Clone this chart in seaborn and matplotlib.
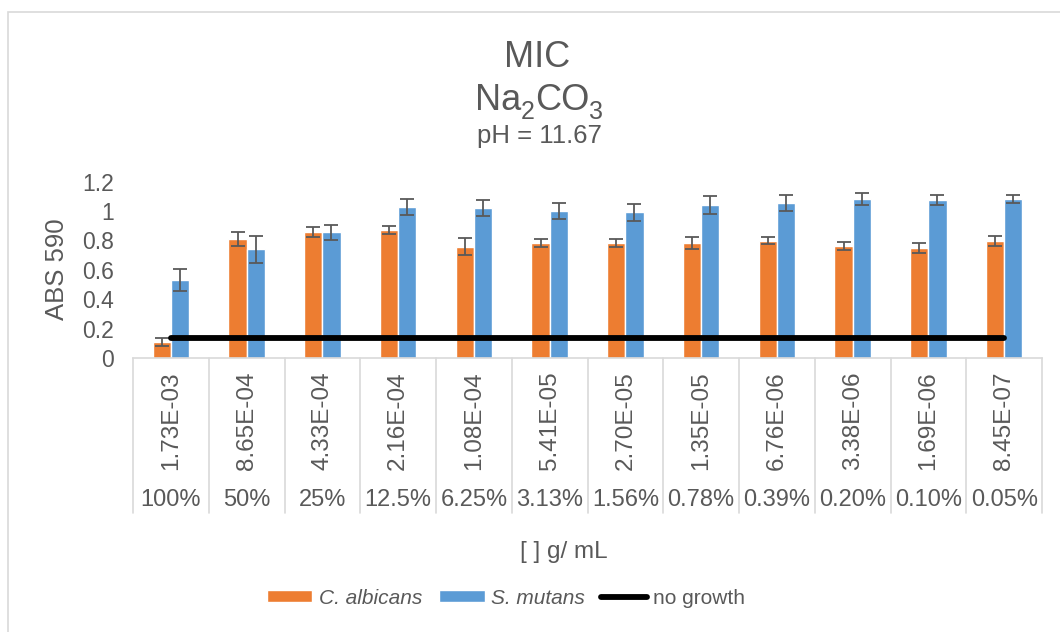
import numpy as np
import pandas as pd
import matplotlib
matplotlib.use("Agg")
import matplotlib.pyplot as plt
import seaborn as sns
from matplotlib.transforms import blended_transform_factory
from matplotlib.patches import Rectangle, Patch
from matplotlib.lines import Line2D

# Concentrations (g/mL) and dilution levels
concentrations = ["1.73E-03", "8.65E-04", "4.33E-04", "2.16E-04", "1.08E-04", "5.41E-05",
                  "2.70E-05", "1.35E-05", "6.76E-06", "3.38E-06", "1.69E-06", "8.45E-07"]
percents = ["100%", "50%", "25%", "12.5%", "6.25%", "3.13%",
            "1.56%", "0.78%", "0.39%", "0.20%", "0.10%", "0.05%"]

# Absorbance at 590 nm (mean and error)
c_albicans = [0.11, 0.81, 0.857, 0.873, 0.757, 0.782, 0.782, 0.784, 0.798, 0.762, 0.748, 0.796]
c_albicans_err = [0.025, 0.048, 0.036, 0.027, 0.059, 0.027, 0.030, 0.041, 0.024, 0.030, 0.031, 0.036]
s_mutans = [0.53, 0.74, 0.855, 1.027, 1.022, 1.000, 0.991, 1.040, 1.056, 1.084, 1.075, 1.082]
s_mutans_err = [0.074, 0.092, 0.050, 0.057, 0.054, 0.053, 0.059, 0.060, 0.054, 0.041, 0.034, 0.029]
no_growth = [0.133, 0.133, 0.133, 0.133, 0.133, 0.133, 0.133, 0.133, 0.133, 0.133, 0.133, 0.133]

series_names = ["C. albicans", "S. mutans"]
colors = ["#ED7D31", "#5B9BD5"]
text_color = "#595959"
line_gray = "#D9D9D9"

sns.set_theme(style="white")
plt.rcParams["font.family"] = ["Liberation Sans", "DejaVu Sans"]

df = pd.DataFrame({
    "conc": concentrations * 2,
    "species": [series_names[0]] * len(concentrations) + [series_names[1]] * len(concentrations),
    "abs": c_albicans + s_mutans,
})

W, H = 1060, 632
fig = plt.figure(figsize=(W / 100, H / 100), dpi=100)
ax = fig.add_axes([133 / W, 1 - 358 / H, (1042 - 133) / W, (358 - 181.6) / H])

sns.barplot(data=df, x="conc", y="abs", hue="species", order=concentrations,
            hue_order=series_names, palette=colors, width=0.48, saturation=1,
            errorbar=None, legend=False, ax=ax)

# Error bars centred on each drawn bar
for cont, vals, errs in zip(ax.containers, [c_albicans, s_mutans], [c_albicans_err, s_mutans_err]):
    xs = [p.get_x() + p.get_width() / 2 for p in cont.patches]
    ax.errorbar(xs, vals, yerr=errs, fmt="none", ecolor=text_color,
                elinewidth=1.3, capsize=4.7, capthick=1.3, zorder=3)

# Threshold line
ax.plot(np.arange(len(concentrations)), no_growth, color="black", lw=4.2,
        solid_capstyle="round", zorder=4)

ax.set_ylim(0, 1.2)
ax.set_xlim(-0.5, len(concentrations) - 0.5)
ax.set_yticks([0, 0.2, 0.4, 0.6, 0.8, 1.0, 1.2])
ax.set_yticklabels(["0", "0.2", "0.4", "0.6", "0.8", "1", "1.2"])
ax.tick_params(axis="y", length=0, pad=14, labelsize=16.5, labelcolor=text_color)
ax.tick_params(axis="x", length=0, pad=9.5, labelsize=17.5, labelcolor=text_color)
ax.set_xticks(np.arange(len(concentrations)))
ax.set_xticklabels(concentrations, rotation=90)
ax.set_xlabel("")
ax.set_ylabel("")
for side in ["top", "right", "left"]:
    ax.spines[side].set_visible(False)
ax.spines["bottom"].set_color(line_gray)
ax.spines["bottom"].set_linewidth(1.2)

# Second level of category labels and separators
trans = blended_transform_factory(ax.transData, ax.transAxes)
for i, pct in enumerate(percents):
    ax.text(i, -0.805, pct, transform=trans, ha="center", va="center",
            fontsize=17, color=text_color)
for i in range(len(concentrations) + 1):
    ax.plot([i - 0.5, i - 0.5], [0, -0.879], transform=trans, color=line_gray,
            lw=1.2, clip_on=False, zorder=1)

# Titles
fig.text(537.5 / W, 1 - 66.7 / H, "MIC", ha="center", va="baseline", fontsize=26, color=text_color)

# Formula line built from pieces so the subscripts sit low like the chart title
renderer = fig.canvas.get_renderer()
pieces = [("Na", 26, 0), ("2", 18, -9), ("CO", 26, 0), ("3", 18, -9)]
base_y = 110
objs = []
for s, size, dy in pieces:
    t = fig.text(0, 1 - (base_y - dy) / H, s, ha="left", va="baseline",
                 fontsize=size, color=text_color)
    objs.append(t)
widths = [t.get_window_extent(renderer).width for t in objs]
x = 539 - sum(widths) / 2
for t, w in zip(objs, widths):
    t.set_x(x / W)
    x += w

fig.text(539 / W, 1 - 143 / H, "pH = 11.67", ha="center", va="baseline", fontsize=18.5, color=text_color)

fig.text(57 / W, 1 - 269 / H, "ABS 590", rotation=90, ha="center", va="center",
         fontsize=18.5, color=text_color)
fig.text(563.5 / W, 1 - 552 / H, "[ ] g/ mL", ha="center", va="center",
         fontsize=17.5, color=text_color)

# Legend
handles = [Patch(facecolor=colors[0]), Patch(facecolor=colors[1]),
           Line2D([0], [0], color="black", lw=4.2, solid_capstyle="round")]
leg = fig.legend(handles, series_names + ["no growth"], loc="center",
                 bbox_to_anchor=(506 / W, 1 - 598 / H), ncol=3, frameon=False,
                 fontsize=15, handlelength=2.2, handleheight=0.55, handletextpad=0.3,
                 columnspacing=0.8, borderpad=0)
for t in leg.get_texts():
    t.set_color(text_color)
leg.get_texts()[0].set_style("italic")
leg.get_texts()[1].set_style("italic")

# Chart frame
fig.patches.append(Rectangle((7.5 / W, -0.1), 1.2, 1.1 - 12 / H, transform=fig.transFigure,
                             fill=False, edgecolor=line_gray, lw=1.2))

fig.savefig("out.png", dpi=100, facecolor="white")
